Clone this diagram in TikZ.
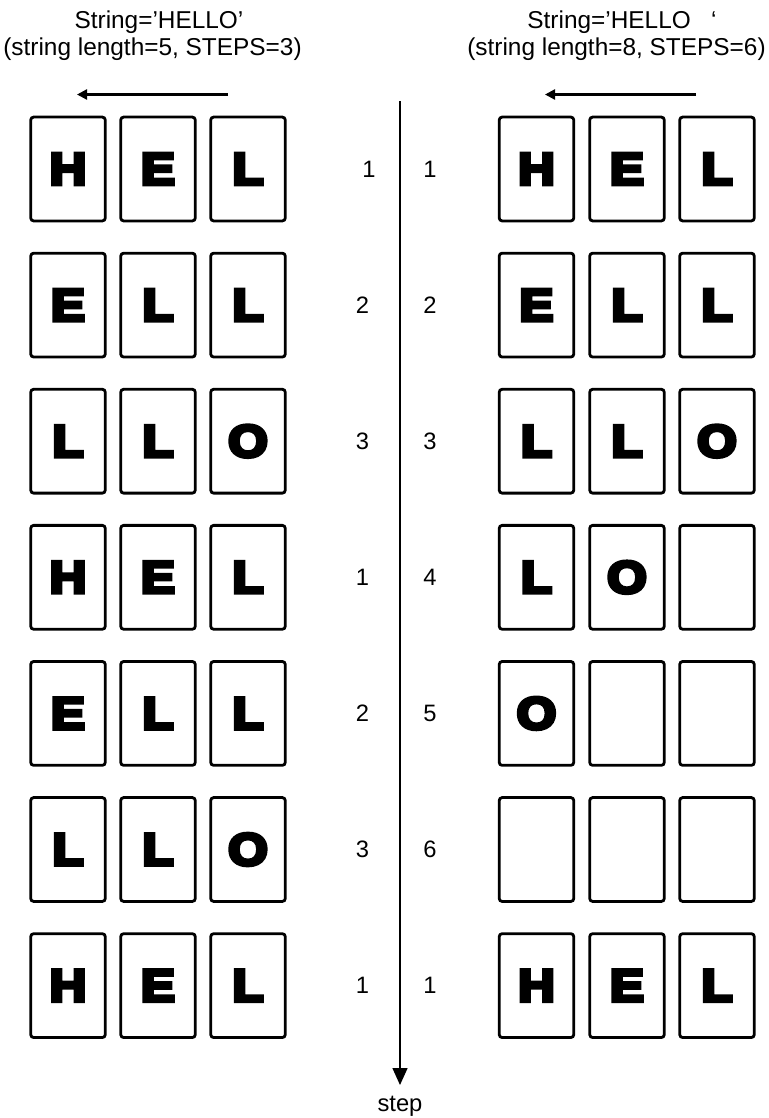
\documentclass[tikz,border=0pt]{standalone}
\usepackage{fontspec}
\setmainfont{Liberation Sans}
\newfontfamily\heavyfont[BoldFeatures={FakeBold=8}]{Liberation Sans}
\usetikzlibrary{arrows.meta}
\begin{document}
\begin{tikzpicture}[x=0.75pt,y=-0.75pt,
  cell/.style={draw, line width=2.1pt, rounded corners=2.2pt,
    minimum width=55.9pt, minimum height=77.9pt, inner sep=0pt,
    font=\heavyfont\bfseries\fontsize{34}{34}\selectfont},
  num/.style={inner sep=0pt, font=\fontsize{17.8}{20}\selectfont},
  titleline/.style={inner sep=0pt, anchor=base, font=\fontsize{18.3}{20}\selectfont},
  dirarrow/.style={line width=1.7pt, -{Triangle[length=7.5pt,width=7.5pt]}},
  stepaxis/.style={line width=1.1pt, -{Triangle[length=12.75pt,width=11.25pt]}}]
\useasboundingbox (0,0) rectangle (768,1118);
% titles
\node[titleline] (tl1) at (159,28) {String=’HELLO’};
\node[titleline] (tl2) at (152.5,55) {(string length=5, STEPS=3)};
\node[titleline] (tr1) at (622,28) {String=’HELLO \ \ ‘};
\node[titleline] (tr2) at (616.5,55) {(string length=8, STEPS=6)};
% direction arrows
\coordinate (la1) at (228,94.5);
\coordinate (la2) at (77,94.5);
\coordinate (ra1) at (696,94.5);
\coordinate (ra2) at (545,94.5);
\draw[dirarrow] (la1) -- (la2);
\draw[dirarrow] (ra1) -- (ra2);
% step axis
\coordinate (axtop) at (400,101);
\coordinate (axbot) at (400,1085);
\draw[stepaxis] (axtop) -- (axbot);
\node[num] (steplabel) at (400,1106) {step};
% rows
\foreach \r/\a/\b/\c/\n/\m/\d/\e/\f in {
  1/H/E/L/1/1/H/E/L,
  2/E/L/L/2/2/E/L/L,
  3/L/L/O/3/3/L/L/O,
  4/H/E/L/1/4/L/O/{},
  5/E/L/L/2/5/O/{}/{},
  6/L/L/O/3/6/{}/{}/{},
  7/H/E/L/1/1/H/E/L}{
  \pgfmathsetmacro{\yy}{169+136.1*(\r-1)}
  \node[cell] (L\r a) at (68,\yy) {\scalebox{1.12}[1]{\a}};
  \node[cell] (L\r b) at (158,\yy) {\scalebox{1.12}[1]{\b}};
  \node[cell] (L\r c) at (248,\yy) {\scalebox{1.12}[1]{\c}};
  \node[cell] (R\r a) at (536.5,\yy) {\scalebox{1.12}[1]{\d}};
  \node[cell] (R\r b) at (627,\yy) {\scalebox{1.12}[1]{\e}};
  \node[cell] (R\r c) at (717,\yy) {\scalebox{1.12}[1]{\f}};
  \node[num] (NL\r) at ({\r==1 ? 369 : 362.5},\yy) {\n};
  \node[num] (NR\r) at (430,\yy) {\m};
}
\end{tikzpicture}
\end{document}
